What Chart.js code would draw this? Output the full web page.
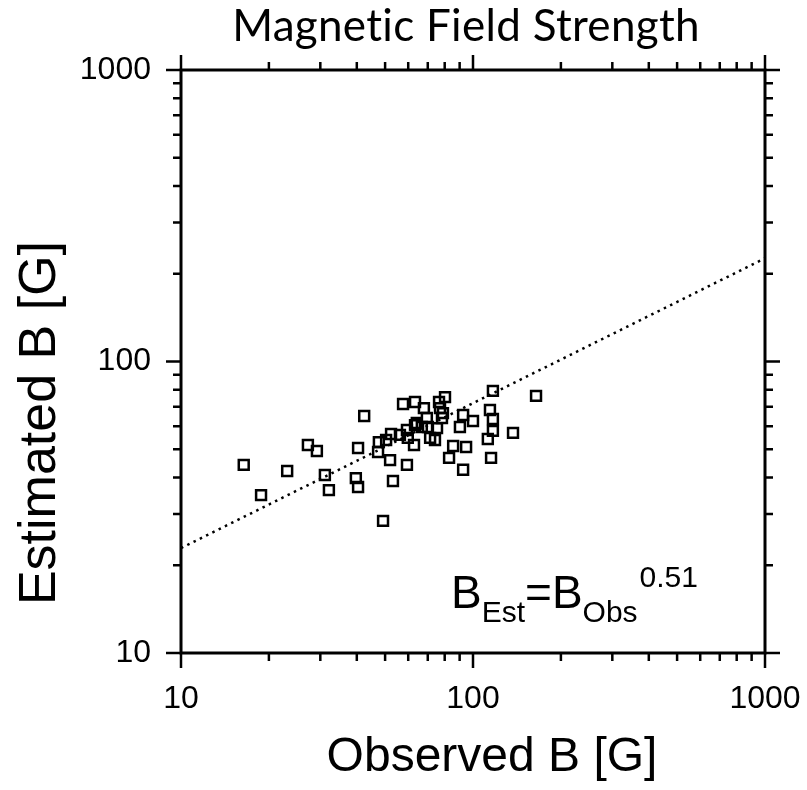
<!DOCTYPE html>
<html>
<head>
<meta charset="utf-8">
<script src="https://cdn.jsdelivr.net/npm/chart.js@4.4.1/dist/chart.umd.min.js"></script>
<style>
  body { margin: 0; background: #fff; }
  #wrap { width: 807px; height: 790px; }
</style>
</head>
<body>
<div id="wrap"><canvas id="bfield"></canvas></div>
<script>
// observed vs estimated field strength
const obsB = [16.4, 18.8, 23.1, 27.2, 29.2, 31.1, 32.1, 39.7, 40.4, 40.4,
  42.4, 49.2, 53.2, 52.0, 59.4, 57.6, 63.3, 47.6, 47.3, 50.4,
  52.4, 56.2, 59.4, 59.8, 62.8, 63.3, 67.9, 76.5, 80.2, 77.1,
  78.9, 69.5, 78.3, 64.2, 70.1, 75.3, 74.1, 92.5, 100.0, 90.2,
  117.0, 114.3, 117.0, 117.0, 112.4, 137.1, 164.4, 85.5, 94.7, 82.8,
  115.3, 92.5, 71.3, 66.8];
const estB = [44.2, 34.8, 42.1, 51.7, 49.3, 40.8, 36.2, 39.8, 50.5, 37.1,
  65.0, 28.4, 38.9, 45.9, 44.2, 71.5, 72.6, 52.9, 48.9, 53.8,
  56.4, 56.0, 58.2, 54.7, 51.7, 60.5, 69.2, 72.6, 75.5, 69.2,
  66.5, 64.0, 64.0, 61.5, 59.6, 59.1, 53.8, 65.5, 62.5, 59.6,
  79.3, 68.2, 63.5, 57.8, 54.2, 56.9, 76.2, 51.3, 50.9, 46.7,
  46.7, 42.5, 54.7, 59.6];

// power-law fit line B_est = B_obs^0.51 (ends of the dotted line)
const fitX = [10, 1000];
const fitY = [22.9, 226];

const majorTicks = [10, 100, 1000];

const titleText = 'Magnetic Field Strength';
const xTitle = 'Observed B [G]';
const yTitle = 'Estimated B [G]';

const points = obsB.map((v, i) => ({ x: v, y: estB[i] }));
const fitLine = fitX.map((v, i) => ({ x: v, y: fitY[i] }));

const arial = '"Liberation Sans", Arial, sans-serif';

// frame, log tick marks (outward), titles and the formula text
const framePlugin = {
  id: 'frame',
  afterDraw(chart) {
    const { ctx, chartArea: a, scales } = chart;
    const xs = scales.x, ys = scales.y;
    ctx.save();
    ctx.strokeStyle = '#000';
    ctx.lineWidth = 3;
    ctx.strokeRect(a.left, a.top, a.right - a.left, a.bottom - a.top);

    ctx.lineWidth = 2.5;
    const vals = [];
    for (let d = 10; d < 1000; d *= 10) {
      for (let m = 1; m < 10; m++) vals.push(d * m);
    }
    vals.push(1000);
    vals.forEach(v => {
      const major = majorTicks.includes(v);
      const len = major ? 15 : 8;
      const px = xs.getPixelForValue(v);
      const py = ys.getPixelForValue(v);
      ctx.beginPath();
      ctx.moveTo(px, a.bottom); ctx.lineTo(px, a.bottom + len);
      ctx.moveTo(px, a.top); ctx.lineTo(px, a.top - len);
      ctx.moveTo(a.left, py); ctx.lineTo(a.left - len, py);
      ctx.moveTo(a.right, py); ctx.lineTo(a.right + len, py);
      ctx.stroke();
    });

    ctx.fillStyle = '#000';

    // chart title
    ctx.textAlign = 'center';
    ctx.textBaseline = 'middle';
    ctx.font = '44px Lato, "Open Sans", sans-serif';
    ctx.letterSpacing = '0.3px';
    ctx.fillText(titleText, 466, 27);
    ctx.letterSpacing = '0px';

    // axis titles
    ctx.font = '48px ' + arial;
    ctx.fillText(xTitle, 492, 758);
    ctx.save();
    ctx.translate(41, 423);
    ctx.rotate(-Math.PI / 2);
    ctx.font = '52px ' + arial;
    ctx.fillText(yTitle, 0, 0);
    ctx.restore();

    // B_Est = B_Obs^0.51
    ctx.textAlign = 'left';
    ctx.textBaseline = 'alphabetic';
    const big = '46px ' + arial;
    const small = '30px ' + arial;
    let x = 451;
    const parts = [
      ['B', big, 608], ['Est', small, 622], ['=', big, 608],
      ['B', big, 608], ['Obs', small, 622], ['0.51', small, 587]
    ];
    parts.forEach(([t, f, y]) => {
      ctx.font = f;
      ctx.fillText(t, x, y);
      x += ctx.measureText(t).width + (t === 'Obs' ? 2 : 0);
    });
    ctx.restore();
  }
};

const tickFont = { family: arial, size: 32 };

new Chart(document.getElementById('bfield'), {
  type: 'scatter',
  data: {
    datasets: [
      {
        label: 'Stars',
        data: points,
        pointStyle: 'rect',
        pointRadius: 7,
        pointHoverRadius: 7,
        borderColor: '#000',
        borderWidth: 2.5,
        backgroundColor: 'rgba(0,0,0,0)'
      },
      {
        label: 'Fit',
        type: 'line',
        data: fitLine,
        showLine: true,
        pointRadius: 0,
        borderColor: '#000',
        borderWidth: 2.5,
        borderDash: [2.5, 4.5],
        fill: false
      }
    ]
  },
  options: {
    responsive: true,
    maintainAspectRatio: false,
    animation: false,
    layout: { padding: { left: 0, right: 42, top: 70, bottom: 0 } },
    plugins: {
      legend: { display: false },
      tooltip: { enabled: false },
      title: { display: false }
    },
    scales: {
      x: {
        type: 'logarithmic',
        min: 10,
        max: 1000,
        afterBuildTicks: s => { s.ticks = majorTicks.map(v => ({ value: v })); },
        afterFit: s => { s.height = 137; s.paddingLeft = 0; s.paddingRight = 0; },
        grid: { display: false, drawTicks: false },
        border: { display: false },
        ticks: {
          color: '#000',
          font: tickFont,
          padding: 27,
          maxRotation: 0,
          autoSkip: false,
          callback: v => String(v)
        }
      },
      y: {
        type: 'logarithmic',
        min: 10,
        max: 1000,
        afterBuildTicks: s => { s.ticks = majorTicks.map(v => ({ value: v })); },
        afterFit: s => { s.width = 181; s.paddingTop = 0; s.paddingBottom = 0; },
        grid: { display: false, drawTicks: false },
        border: { display: false },
        ticks: {
          color: '#000',
          font: tickFont,
          padding: 30,
          autoSkip: false,
          callback: v => String(v)
        }
      }
    }
  },
  plugins: [framePlugin]
});
</script>
</body>
</html>
